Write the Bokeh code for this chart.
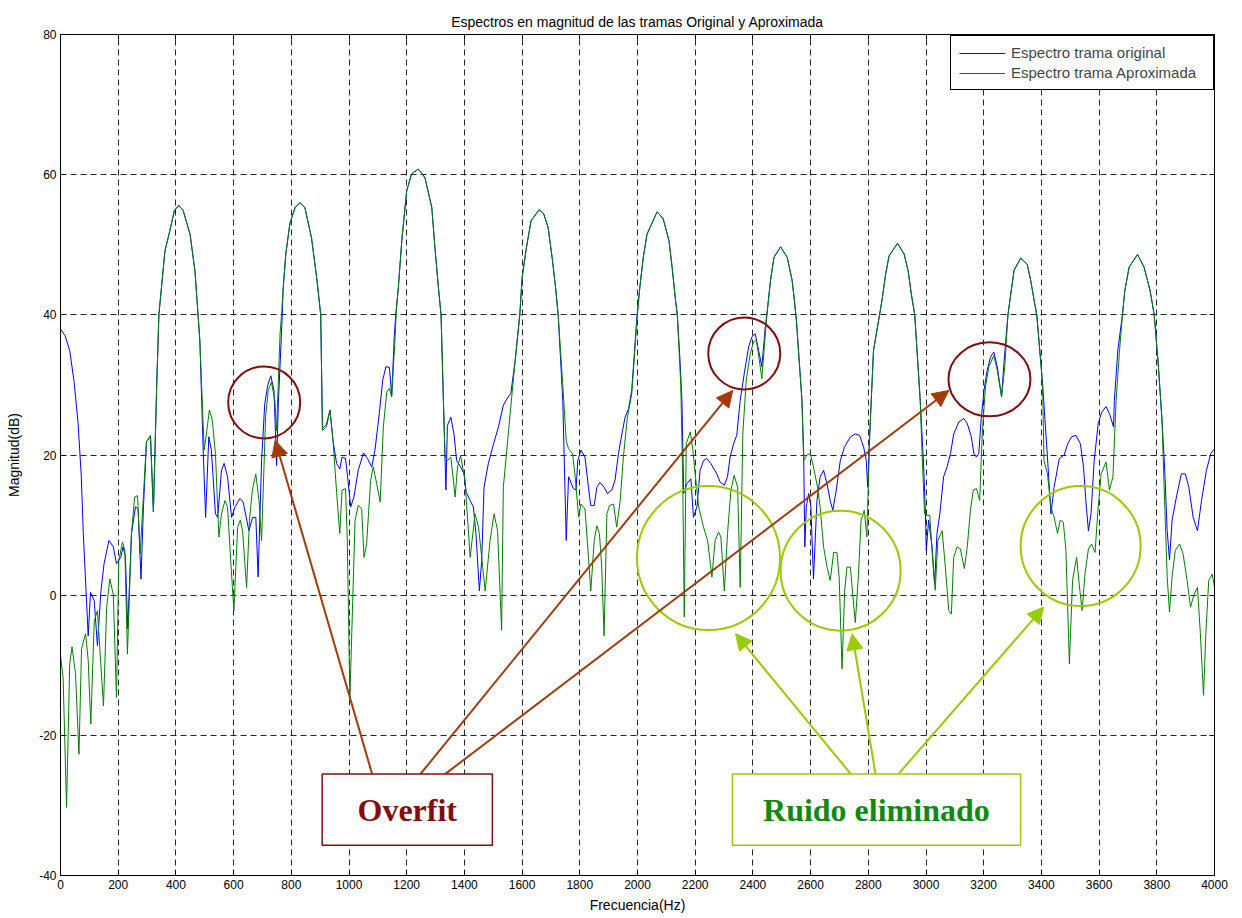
from bokeh.plotting import figure
from bokeh.models import (Range1d, FixedTicker, LinearAxis, Legend, LegendItem,
                          Arrow, NormalHead, Label, BoxAnnotation)
from bokeh.embed import file_html
from bokeh.resources import INLINE

# ---------------- data ----------------
orig_freq = [0, 16, 32, 47, 61, 72, 79, 96, 104, 117, 128, 140, 151, 168, 183, 194, 209, 217, 225, 233,
             246, 260, 269, 279, 287, 298, 312, 322, 333, 341, 350, 362, 379, 395, 410, 425, 449, 466, 483,
             495, 503, 514, 523, 537, 545, 558, 567, 579, 593, 605, 622, 633, 653, 666, 677, 685, 697, 708,
             718, 729, 740, 749, 755, 767, 772, 781, 795, 813, 830, 847, 870, 888, 902, 908, 922, 934, 945,
             957, 968, 976, 988, 994, 1006, 1017, 1032, 1050, 1064, 1079, 1090, 1105, 1117, 1128, 1140, 1148,
             1157, 1162, 1171, 1183, 1200, 1217, 1240, 1263, 1287, 1298, 1310, 1319, 1327, 1336, 1341, 1353,
             1364, 1373, 1387, 1399, 1406, 1420, 1431, 1440, 1452, 1460, 1468, 1483, 1501, 1518, 1535, 1547,
             1561, 1576, 1592, 1600, 1615, 1631, 1659, 1675, 1690, 1704, 1716, 1725, 1741, 1753, 1761, 1778,
             1787, 1793, 1804, 1818, 1830, 1838, 1850, 1859, 1870, 1884, 1896, 1911, 1922, 1934, 1946, 1957,
             1969, 1980, 1998, 2008, 2020, 2033, 2068, 2089, 2109, 2120, 2132, 2138, 2148, 2154, 2160, 2171,
             2185, 2194, 2206, 2217, 2229, 2240, 2254, 2275, 2287, 2301, 2312, 2321, 2333, 2344, 2356, 2370,
             2385, 2397, 2408, 2420, 2431, 2443, 2450, 2461, 2473, 2496, 2519, 2536, 2544, 2551, 2570, 2576,
             2580, 2585, 2593, 2601, 2610, 2622, 2633, 2645, 2657, 2668, 2677, 2689, 2703, 2717, 2738, 2755,
             2770, 2784, 2793, 2798, 2805, 2818, 2839, 2849, 2860, 2872, 2901, 2924, 2938, 2949, 2961, 2980,
             2992, 2998, 3001, 3009, 3021, 3030, 3038, 3048, 3061, 3073, 3085, 3096, 3114, 3131, 3143, 3157,
             3166, 3175, 3183, 3191, 3201, 3212, 3224, 3235, 3247, 3262, 3270, 3284, 3294, 3305, 3328, 3351,
             3363, 3375, 3384, 3404, 3421, 3433, 3444, 3462, 3479, 3491, 3505, 3520, 3535, 3546, 3554, 3563,
             3572, 3583, 3597, 3609, 3624, 3636, 3650, 3653, 3665, 3681, 3689, 3704, 3733, 3756, 3777, 3791,
             3805, 3818, 3827, 3836, 3844, 3853, 3868, 3885, 3899, 3911, 3926, 3941, 3955, 3972, 3987, 4000]
orig_db = [38.0, 37.0, 34.9, 30.5, 24.5, 17.0, 8.8, -5.8, 0.4, -0.8, -7.2, 0.5, 4.5, 7.8, 6.9, 4.5, 5.4, 6.9, 5.5, -4.8,
           8.8, 12.6, 12.3, 2.3, 12.0, 21.9, 22.6, 11.9, 29.2, 40.0, 43.9, 49.1, 52.0, 54.9, 55.6, 54.9, 51.5, 46.3, 36.3,
           20.2, 11.1, 22.6, 20.7, 11.6, 11.1, 17.8, 18.8, 16.9, 11.1, 12.6, 13.8, 13.3, 9.2, 11.1, 11.1, 2.6, 19.2, 27.3,
           29.9, 31.3, 29.2, 18.5, 27.3, 38.3, 43.9, 48.7, 53.0, 55.3, 56.0, 55.3, 51.0, 45.3, 40.0, 23.8, 24.4, 26.4, 21.9,
           18.8, 18.0, 19.7, 19.5, 17.3, 12.6, 14.0, 17.8, 20.3, 19.5, 18.3, 20.7, 25.9, 30.7, 32.6, 32.5, 28.5,
           36.9, 40.0, 43.9, 50.6, 57.7, 60.1, 60.8, 59.6, 55.3, 49.5, 43.9, 40.0, 27.8, 15.0, 24.2, 25.4,
           23.0, 19.2, 18.3, 17.3, 14.7, 13.5, 12.6, 8.8, 0.6, 5.0, 15.4, 18.8, 21.6, 24.0, 27.1, 28.0,
           28.8, 33.5, 40.0, 45.3, 49.6, 53.4, 55.0, 54.4, 52.5, 48.2, 43.9, 40.0, 27.8, 7.8, 16.9, 15.2,
           15.0, 19.2, 20.7, 19.7, 15.4, 12.8, 12.8, 15.4, 16.1, 15.4, 14.5, 15.0, 16.4, 20.2, 23.0, 25.4,
           26.6, 29.2, 39.7, 43.9, 48.2, 51.5, 54.7, 53.7, 50.6, 46.8, 42.0, 40.0, 33.0, 27.8, 14.5, 15.9,
           16.6, 11.1, 12.6, 17.8, 19.2, 19.5, 18.8, 17.3, 16.1, 15.7, 16.9, 19.7, 21.6, 22.8, 27.8, 31.6,
           35.4, 36.9, 37.3, 34.9, 32.6, 38.3, 40.6, 44.9, 48.2, 49.7, 48.2, 44.9, 42.0, 39.1, 27.8, 20.2,
           6.9, 12.6, 14.5, 12.6, 2.3, 13.5, 16.9, 17.8, 15.9, 13.5, 12.1, 15.0, 19.2, 21.1, 22.6, 23.0,
           22.8, 21.1, 19.2, 15.4, 23.0, 34.9, 40.0, 42.5, 45.8, 48.4, 50.2, 48.7, 46.3, 43.0, 40.0, 27.8,
           18.3, 11.6, 6.4, 10.7, 6.9, 1.6, 8.8, 11.6, 16.9, 18.3, 20.2, 23.0, 24.7, 25.2, 24.5, 22.6,
           20.2, 19.7, 20.2, 25.0, 29.2, 32.1, 34.0, 34.7, 32.6, 28.3, 33.0, 40.0, 43.0, 46.3, 48.1, 47.2,
           44.9, 42.0, 40.0, 30.2, 19.7, 11.6, 15.4, 19.5, 20.0, 21.6, 22.6, 22.8, 21.6, 18.3, 13.5, 9.2,
           11.6, 19.2, 24.5, 26.1, 26.9, 25.9, 24.0, 27.8, 35.0, 40.0, 43.4, 46.8, 48.6, 46.8, 43.4, 40.0,
           33.0, 25.0, 18.3, 9.2, 5.0, 10.7, 14.0, 17.3, 17.3, 15.4, 11.1, 9.2, 13.5, 17.8, 20.2, 20.9]

aprox_freq = [0, 9, 21, 32, 40, 52, 64, 73, 87, 96, 105, 117, 128, 149, 160, 171, 183, 194, 202, 215,
              223, 232, 246, 257, 267, 276, 298, 312, 322, 333, 341, 350, 362, 379, 395, 410, 425, 449, 466,
              483, 498, 506, 516, 526, 537, 549, 558, 570, 579, 590, 601, 614, 623, 631, 645, 655, 665, 677,
              688, 697, 711, 720, 731, 743, 749, 761, 767, 772, 781, 795, 813, 830, 847, 870, 888, 902, 908,
              922, 934, 945, 957, 968, 976, 988, 994, 1003, 1021, 1032, 1044, 1052, 1061, 1075, 1084, 1096,
              1108, 1119, 1131, 1140, 1148, 1160, 1164, 1171, 1183, 1200, 1217, 1240, 1263, 1287, 1298, 1310,
              1319, 1321, 1333, 1341, 1353, 1368, 1376, 1387, 1402, 1420, 1437, 1449, 1472, 1489, 1503, 1515,
              1529, 1535, 1547, 1564, 1576, 1592, 1600, 1615, 1631, 1659, 1675, 1690, 1704, 1716, 1725, 1741,
              1753, 1761, 1775, 1784, 1796, 1804, 1818, 1830, 1838, 1850, 1859, 1868, 1876, 1884, 1894, 1903,
              1917, 1928, 1940, 1951, 1965, 1980, 1998, 2008, 2020, 2033, 2068, 2089, 2109, 2120, 2132, 2138,
              2150, 2157, 2162, 2169, 2183, 2192, 2200, 2212, 2229, 2243, 2258, 2269, 2281, 2289, 2301, 2312,
              2324, 2335, 2347, 2356, 2365, 2377, 2391, 2402, 2412, 2424, 2431, 2443, 2450, 2461, 2473, 2496,
              2519, 2536, 2544, 2551, 2570, 2576, 2587, 2599, 2610, 2624, 2633, 2645, 2657, 2668, 2680, 2691,
              2699, 2709, 2718, 2726, 2738, 2746, 2755, 2766, 2775, 2786, 2795, 2805, 2818, 2839, 2849, 2860,
              2872, 2901, 2924, 2938, 2949, 2961, 2980, 2986, 2995, 3001, 3013, 3024, 3032, 3041, 3056, 3067,
              3079, 3088, 3096, 3108, 3119, 3133, 3143, 3154, 3164, 3175, 3186, 3195, 3206, 3218, 3235, 3247,
              3262, 3273, 3284, 3294, 3305, 3328, 3351, 3363, 3375, 3384, 3404, 3409, 3421, 3433, 3444, 3456,
              3465, 3476, 3485, 3497, 3508, 3522, 3531, 3541, 3551, 3563, 3574, 3586, 3595, 3607, 3624, 3636,
              3648, 3659, 3671, 3681, 3689, 3704, 3733, 3756, 3777, 3791, 3805, 3818, 3827, 3836, 3844, 3853,
              3864, 3879, 3891, 3905, 3917, 3929, 3941, 3951, 3962, 3970, 3980, 3992, 4000]
aprox_db = [-8.6, -11.7, -30.3, -9.8, -7.4, -11.2, -22.7, -7.6, -5.5, -9.3, -18.4, -3.7, -2.2, -15.8, -1.7, 2.3, 0.1, -14.6, 4.9, 7.6,
            6.4, -8.4, 8.8, 14.0, 14.2, 5.9, 21.9, 22.8, 11.9, 29.2, 40.0, 43.9, 49.1, 52.0, 54.9, 55.6, 54.9, 51.5, 46.3,
            36.3, 20.7, 23.1, 26.4, 25.0, 20.2, 8.3, 11.6, 13.5, 12.6, 4.9, -2.2, 9.7, 10.7, 9.2, 1.1, 10.7, 15.0, 17.3,
            13.5, 7.8, 25.5, 29.2, 30.4, 27.8, 23.5, 37.3, 40.5, 43.9, 48.7, 53.0, 55.3, 56.0, 55.3, 51.0, 45.3, 40.0, 23.5,
            24.0, 26.4, 21.9, 14.7, 8.8, 15.0, 15.2, 8.0, -14.8, 10.7, 12.8, 12.3, 5.4, 7.3, 16.4, 18.3, 15.9,
            13.3, 24.0, 29.0, 29.5, 28.3, 36.9, 40.5, 43.9, 50.6, 57.7, 60.1, 60.8, 59.6, 55.3, 49.5, 43.9,
            40.0, 37.3, 19.7, 19.2, 19.7, 14.0, 18.3, 19.9, 16.4, 5.4, 11.6, 9.7, 0.6, 7.8, 11.6, 9.2,
            -5.0, 15.4, 20.7, 28.3, 33.5, 40.0, 45.3, 49.6, 53.4, 55.0, 54.4, 52.5, 48.2, 43.9, 40.0, 30.0,
            22.0, 20.9, 20.2, 16.9, 11.1, 13.0, 12.3, 5.4, 0.6, 7.8, 9.9, 8.8, 4.0, -5.8, 11.6, 12.8,
            13.0, 9.7, 13.5, 19.7, 25.4, 28.7, 39.2, 43.9, 48.2, 51.5, 54.7, 53.7, 50.6, 46.8, 42.0, 40.0,
            30.0, 16.0, -3.1, 21.6, 23.3, 20.7, 17.3, 12.6, 9.7, 7.8, 2.6, 7.8, 9.0, 8.3, 0.6, 8.8,
            15.0, 17.1, 15.4, 1.1, 23.0, 30.7, 34.5, 36.1, 36.4, 33.0, 30.9, 37.3, 40.6, 44.9, 48.2, 49.7,
            48.2, 44.9, 42.0, 39.1, 27.8, 19.2, 20.0, 20.2, 18.3, 15.4, 12.6, 6.9, 4.0, 2.1, 6.1, 6.1,
            2.6, -10.5, 0.6, 4.0, 4.0, 0.1, -3.9, 3.0, 10.7, 12.1, 8.3, 23.0, 34.9, 40.0, 42.5, 45.8,
            48.4, 50.2, 48.7, 46.3, 43.0, 40.0, 27.8, 20.7, 11.6, 11.4, 11.4, 4.5, 0.7, 7.8, 9.2, 4.0,
            -2.2, -2.7, 5.4, 6.9, 6.6, 3.8, 6.9, 12.1, 15.0, 15.2, 13.5, 23.0, 29.7, 32.6, 34.2, 32.1,
            28.3, 32.6, 40.0, 43.0, 46.3, 48.1, 47.2, 44.9, 42.0, 40.0, 30.2, 19.2, 17.3, 12.6, 11.1, 8.8,
            10.7, 10.4, 6.4, -9.8, 2.1, 5.4, 1.6, -2.2, 3.0, 6.6, 7.3, 6.1, 11.6, 17.3, 19.0, 15.0,
            16.9, 27.8, 35.0, 40.0, 43.4, 46.8, 48.6, 46.8, 43.4, 40.0, 33.0, 25.0, 13.5, 2.6, -2.4, 2.6,
            6.4, 7.3, 5.9, 2.1, -1.7, 0.1, 1.1, -5.5, -14.3, -5.5, 2.1, 3.0, 1.1]

x_ticks = [0, 200, 400, 600, 800, 1000, 1200, 1400, 1600, 1800, 2000, 2200, 2400, 2600, 2800, 3000,
           3200, 3400, 3600, 3800, 4000]
x_tick_labels = [str(t) for t in x_ticks]
y_ticks = [-40, -20, 0, 20, 40, 60, 80]
y_tick_labels = ["-40", "-20", "0", "20", "40", "60", "80"]

series_labels = ["Espectro trama original", "Espectro trama Aproximada"]

# annotation placement (data coordinates / screen sizes)
overfit_x = [706, 2370, 3220]
overfit_y = [27.5, 34.5, 30.8]
overfit_w = [72, 72, 82]
overfit_h = [72, 72, 74]
ruido_x = [2246, 2704, 3536]
ruido_y = [5.3, 3.5, 7.0]
ruido_w = [143, 120, 120]
ruido_h = [144, 120, 120]
overfit_arrows = [((1080, -25.5), (744, 22.1)), ((1248, -25.5), (2330, 29.2)), ((1334, -25.5), (3079, 29.2))]
ruido_arrows = [((2739, -25.5), (2340, -5.5)), ((2825, -25.5), (2744, -5.5)), ((2905, -25.5), (3408, -1.7))]

RED_DARK = "#840c0c"
RED_ARROW = "#a33a0a"
LIME = "#99cc00"
GREEN_TXT = "#128a12"

FONT = "Liberation Sans"

p = figure(width=1234, height=917, output_backend="svg", toolbar_location=None,
           x_range=Range1d(0, 4000), y_range=Range1d(-40, 80),
           min_border_left=60, min_border_right=20, min_border_top=34, min_border_bottom=42,
           title="Espectros en magnitud de las tramas Original y Aproximada")
p.background_fill_color = "white"
p.border_fill_color = "white"
p.outline_line_color = "black"
p.outline_line_width = 1
p.outline_line_alpha = 1

p.title.align = "center"
p.title.text_font = FONT
p.title.text_font_size = "14px"
p.title.text_font_style = "normal"
p.title.text_color = "black"
p.title.standoff = 10

for ax, ticks, labels in ((p.xaxis[0], x_ticks, x_tick_labels), (p.yaxis[0], y_ticks, y_tick_labels)):
    ax.ticker = FixedTicker(ticks=ticks)
    ax.major_label_overrides = {t: l for t, l in zip(ticks, labels)}
    ax.major_tick_in = 5
    ax.major_tick_out = 0
    ax.minor_tick_in = 0
    ax.minor_tick_out = 0
    ax.axis_line_color = "black"
    ax.major_tick_line_color = "black"
    ax.major_label_text_font = FONT
    ax.major_label_text_font_size = "12px"
    ax.major_label_text_color = "black"
    ax.axis_label_text_font = FONT
    ax.axis_label_text_font_size = "14px"
    ax.axis_label_text_font_style = "normal"
    ax.axis_label_text_color = "black"
    ax.major_label_standoff = 4

p.xaxis.axis_label = "Frecuencia(Hz)"
p.xaxis.axis_label_standoff = 5
p.yaxis.axis_label = "Magnitud(dB)"
p.yaxis.axis_label_standoff = 14

for side, ticks in (("above", x_ticks), ("right", y_ticks)):
    ax2 = LinearAxis(ticker=FixedTicker(ticks=ticks), major_tick_in=5, major_tick_out=0,
                     minor_tick_in=0, minor_tick_out=0,
                     major_label_overrides={t: "" for t in ticks},
                     major_label_text_font_size="1px",
                     major_label_standoff=0, axis_line_color="black", major_tick_line_color="black")
    p.add_layout(ax2, side)

p.xgrid.ticker = FixedTicker(ticks=x_ticks)
p.ygrid.ticker = FixedTicker(ticks=y_ticks)
for g in (p.xgrid[0], p.ygrid[0]):
    g.grid_line_color = "black"
    g.grid_line_alpha = 0.85
    g.grid_line_dash = "6 4"
    g.grid_line_width = 1

r1 = p.line(orig_freq, orig_db, line_color="#0000ff", line_width=1)
r2 = p.line(aprox_freq, aprox_db, line_color="#008000", line_width=1)

legend = Legend(items=[LegendItem(label=series_labels[0], renderers=[r1]),
                       LegendItem(label=series_labels[1], renderers=[r2])],
                location=(890, 785))
legend.margin = 0
legend.padding = 8
legend.spacing = 3
legend.glyph_width = 46
legend.glyph_height = 14
legend.label_height = 14
legend.label_width = 194
legend.label_standoff = 6
legend.label_text_font = FONT
legend.label_text_font_size = "15px"
legend.border_line_color = "black"
legend.border_line_width = 1
legend.border_line_alpha = 1
legend.background_fill_alpha = 1
p.add_layout(legend)

# annotations
p.ellipse(x=overfit_x, y=overfit_y, width=overfit_w, height=overfit_h,
          width_units="screen", height_units="screen",
          fill_color=None, line_color=RED_DARK, line_width=2)
p.ellipse(x=ruido_x, y=ruido_y, width=ruido_w, height=ruido_h,
          width_units="screen", height_units="screen",
          fill_color=None, line_color=LIME, line_width=2)

for (s, e) in overfit_arrows:
    p.add_layout(Arrow(x_start=s[0], y_start=s[1], x_end=e[0], y_end=e[1],
                       line_color=RED_ARROW, line_width=2,
                       end=NormalHead(size=16, fill_color=RED_ARROW, line_color=RED_ARROW)))
for (s, e) in ruido_arrows:
    p.add_layout(Arrow(x_start=s[0], y_start=s[1], x_end=e[0], y_end=e[1],
                       line_color=LIME, line_width=2,
                       end=NormalHead(size=16, fill_color=LIME, line_color=LIME)))

p.add_layout(BoxAnnotation(left=907, right=1497, top=-25.5, bottom=-35.7,
                           fill_color="white", fill_alpha=1, line_color=RED_DARK,
                           line_alpha=1, line_width=1.5))
p.add_layout(BoxAnnotation(left=2329, right=3328, top=-25.5, bottom=-35.7,
                           fill_color="white", fill_alpha=1, line_color=LIME,
                           line_alpha=1, line_width=1.5))
p.add_layout(Label(x=1202, y=-30.6, text="Overfit", text_font="Liberation Serif",
                   text_font_style="bold", text_font_size="32px", text_color=RED_DARK,
                   text_align="center", text_baseline="middle"))
p.add_layout(Label(x=2828, y=-30.6, text="Ruido eliminado", text_font="Liberation Serif",
                   text_font_style="bold", text_font_size="32px", text_color=GREEN_TXT,
                   text_align="center", text_baseline="middle"))

open("out.html", "w").write(file_html(p, INLINE))
